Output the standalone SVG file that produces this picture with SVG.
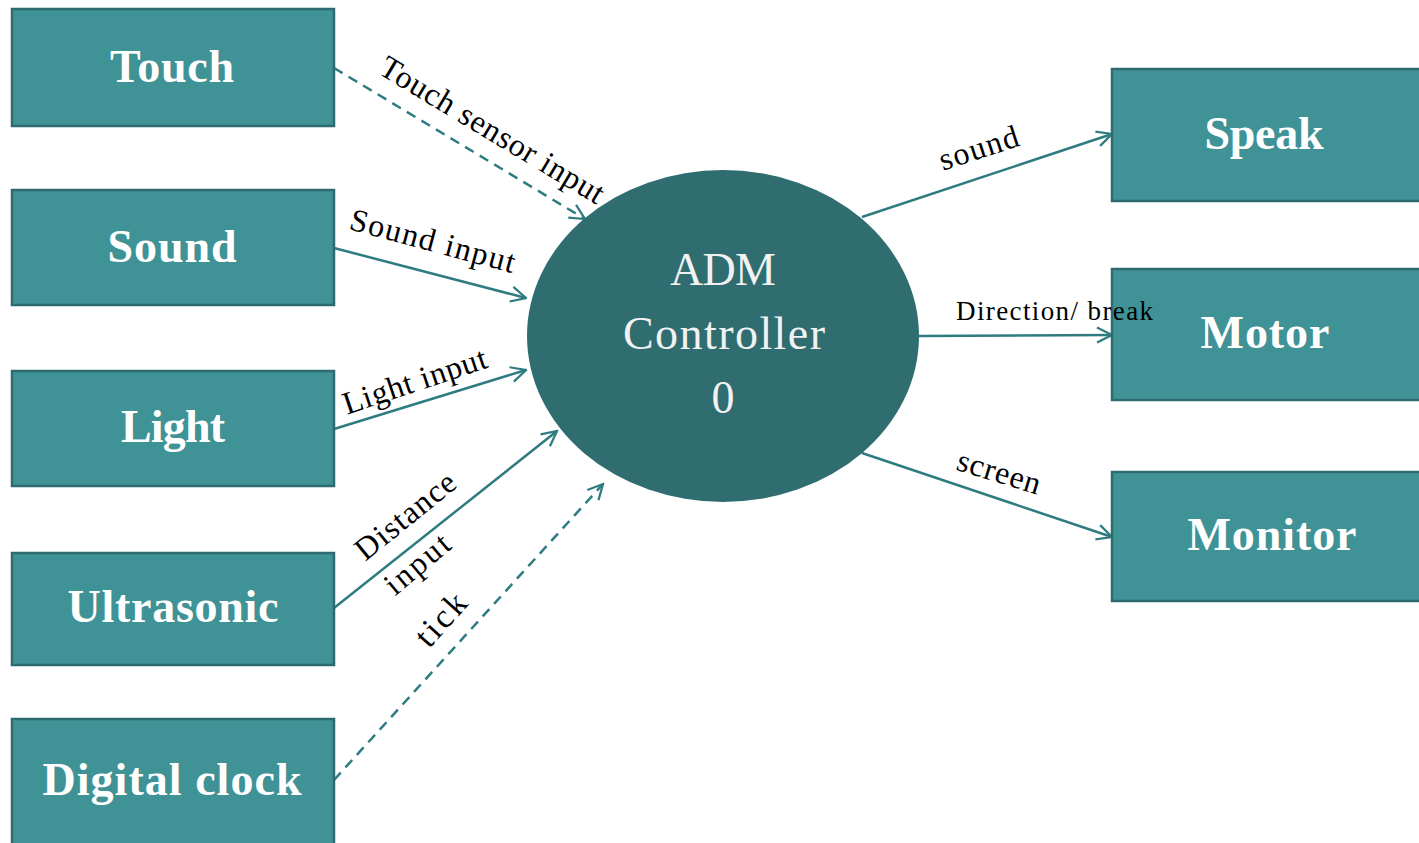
<svg xmlns="http://www.w3.org/2000/svg" width="1419" height="843" viewBox="0 0 1419 843">
<style>
.box{fill:#3F9296;stroke:#2E6B70;stroke-width:2.5}
.nt{font-family:"Liberation Serif",serif;font-weight:bold;font-size:46px;fill:#fff;text-anchor:middle}
.ct{font-family:"Liberation Serif",serif;font-size:46px;fill:#f2f2f2;text-anchor:middle}
.lb{font-family:"Liberation Serif",serif;font-size:32px;fill:#000;text-anchor:middle}
.ln{stroke:#2E7C80;stroke-width:2.5;fill:none}
.dash{stroke-dasharray:10 7}
</style>
<defs>
<marker id="ah" viewBox="0 0 12 12" refX="11" refY="6" markerWidth="18" markerHeight="18" markerUnits="userSpaceOnUse" orient="auto">
<path d="M1,1 L11,6 L1,11" fill="none" stroke="#2E7C80" stroke-width="1.5"/>
</marker>
</defs>
<rect width="1419" height="843" fill="#fff"/>
<g id="connectors">
<line class="ln dash" x1="334" y1="68" x2="585" y2="219" marker-end="url(#ah)"/>
<line class="ln" x1="334" y1="248" x2="526" y2="298" marker-end="url(#ah)"/>
<line class="ln" x1="334" y1="429" x2="526" y2="370" marker-end="url(#ah)"/>
<line class="ln" x1="334" y1="608" x2="557" y2="431" marker-end="url(#ah)"/>
<line class="ln dash" x1="334" y1="780" x2="603" y2="484" marker-end="url(#ah)"/>
<line class="ln" x1="862" y1="217" x2="1112" y2="134" marker-end="url(#ah)"/>
<line class="ln" x1="919" y1="336" x2="1112" y2="335" marker-end="url(#ah)"/>
<line class="ln" x1="862" y1="453" x2="1112" y2="537" marker-end="url(#ah)"/>
</g>
<g id="touch"><rect class="box" x="12" y="9" width="322" height="117"/><text class="nt" x="172" y="82" textLength="124">Touch</text></g>
<g id="sound"><rect class="box" x="12" y="190" width="322" height="115"/><text class="nt" x="172" y="262" textLength="129">Sound</text></g>
<g id="light"><rect class="box" x="12" y="371" width="322" height="115"/><text class="nt" x="173" y="442" textLength="104">Light</text></g>
<g id="ultrasonic"><rect class="box" x="12" y="553" width="322" height="112"/><text class="nt" x="173" y="622" textLength="211">Ultrasonic</text></g>
<g id="digitalclock"><rect class="box" x="12" y="719" width="322" height="140"/><text class="nt" x="172" y="795" textLength="259">Digital clock</text></g>
<g id="adm"><ellipse cx="723" cy="336" rx="196" ry="166" fill="#2F6D71"/><text class="ct" x="723" y="285" textLength="106">ADM</text><text class="ct" x="724" y="349" textLength="202">Controller</text><text class="ct" x="723" y="413">0</text></g>
<g id="speak"><rect class="box" x="1112" y="69" width="320" height="132"/><text class="nt" x="1264" y="149" textLength="119">Speak</text></g>
<g id="motor"><rect class="box" x="1112" y="269" width="320" height="131"/><text class="nt" x="1265" y="348" textLength="129">Motor</text></g>
<g id="monitor"><rect class="box" x="1112" y="472" width="320" height="129"/><text class="nt" x="1272" y="550" textLength="169">Monitor</text></g>
<g id="labels">
<text class="lb" transform="translate(487,139) rotate(31)" textLength="256">Touch sensor input</text>
<text class="lb" transform="translate(430,251) rotate(15)" textLength="170">Sound input</text>
<text class="lb" transform="translate(418,391) rotate(-18.5)" textLength="150">Light input</text>
<text class="lb" transform="translate(412,524) rotate(-39)" textLength="120">Distance</text>
<text class="lb" transform="translate(424,572) rotate(-40)" textLength="76">input</text>
<text class="lb" style="font-size:34px" transform="translate(449,627) rotate(-48)" textLength="60">tick</text>
<text class="lb" transform="translate(982,158) rotate(-18)" textLength="82">sound</text>
<text class="lb" style="text-anchor:start;font-size:27px" x="956" y="320" textLength="197">Direction/ break</text>
<text class="lb" transform="translate(996,482) rotate(17)" textLength="86">screen</text>
</g>
</svg>
